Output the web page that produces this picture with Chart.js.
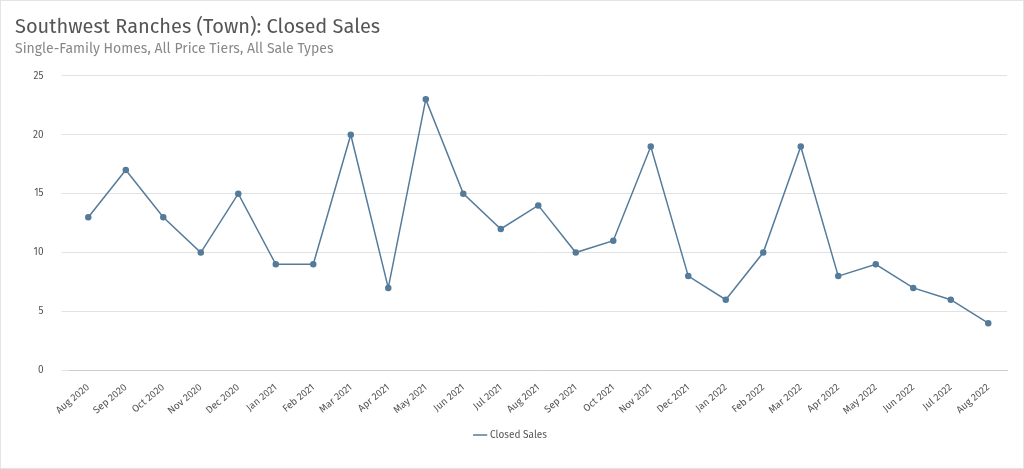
<!DOCTYPE html>
<html>
<head>
<meta charset="utf-8">
<script src="https://cdn.jsdelivr.net/npm/chart.js@4"></script>
<style>
  html, body { margin: 0; padding: 0; background: #fff; }
  #chartBox { width: 1024px; height: 469px; box-sizing: border-box; border: 1px solid #e4e4e4; }
</style>
</head>
<body>
<div id="chartBox"><canvas id="myChart"></canvas></div>
<script>
const months = ["Aug 2020", "Sep 2020", "Oct 2020", "Nov 2020", "Dec 2020", "Jan 2021", "Feb 2021",
    "Mar 2021", "Apr 2021", "May 2021", "Jun 2021", "Jul 2021", "Aug 2021", "Sep 2021", "Oct 2021",
    "Nov 2021", "Dec 2021", "Jan 2022", "Feb 2022", "Mar 2022", "Apr 2022", "May 2022", "Jun 2022",
    "Jul 2022", "Aug 2022"];
const closedSales = [13, 17, 13, 10, 15, 9, 9, 20, 7, 23, 15, 12, 14, 10, 11, 19, 8, 6, 10, 19, 8, 9, 7, 6, 4];

const lineColor = "#557b9b";
const font = "'Fira Sans', 'Open Sans', 'Noto Sans', sans-serif";

new Chart(document.getElementById("myChart"), {
    type: "line",
    data: {
        labels: months,
        datasets: [{
            label: "Closed Sales",
            data: closedSales,
            borderColor: lineColor,
            backgroundColor: lineColor,
            borderWidth: 1.5,
            pointRadius: 2.5,
            pointHoverRadius: 4,
            tension: 0
        }]
    },
    options: {
        responsive: true,
        maintainAspectRatio: false,
        animation: false,
        layout: { padding: { left: 14, right: 16, top: 4, bottom: 18 } },
        plugins: {
            title: {
                display: true,
                text: "Southwest Ranches (Town): Closed Sales",
                align: "start",
                color: "#555",
                font: { family: font, size: 20, weight: "normal" },
                padding: { top: 10, bottom: 2 }
            },
            subtitle: {
                display: true,
                text: "Single-Family Homes, All Price Tiers, All Sale Types",
                align: "start",
                color: "#888",
                font: { family: font, size: 14 },
                padding: { bottom: 18 }
            },
            legend: {
                position: "bottom",
                labels: {
                    usePointStyle: true,
                    pointStyle: "line",
                    boxWidth: 20,
                    color: "#555",
                    font: { family: font, size: 10 }
                }
            }
        },
        scales: {
            x: {
                offset: true,
                grid: { display: false },
                border: { color: "#ccc" },
                ticks: { color: "#555", font: { family: font, size: 10 }, maxRotation: 40, minRotation: 40, autoSkip: false }
            },
            y: {
                min: 0,
                max: 25,
                ticks: { stepSize: 5, color: "#555", font: { family: font, size: 10 }, padding: 18 },
                grid: { color: "#e2e2e2" },
                border: { display: false }
            }
        }
    }
});
</script>
</body>
</html>
